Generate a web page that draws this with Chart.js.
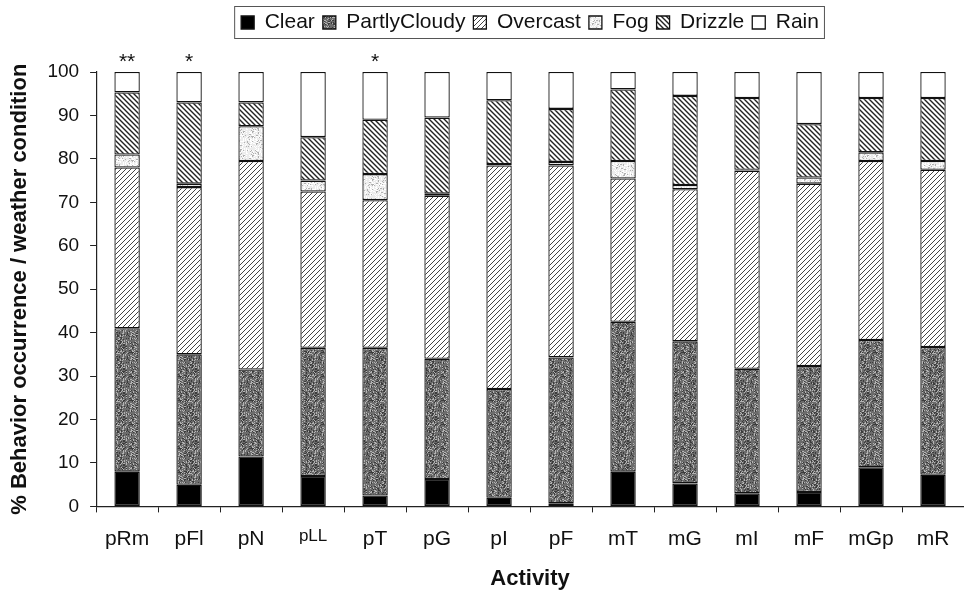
<!DOCTYPE html>
<html>
<head>
<meta charset="utf-8">
<script src="https://cdn.jsdelivr.net/npm/chart.js@4.4.0/dist/chart.umd.min.js"></script>
<style>
  body { margin: 0; background: #fff; }
  #wrap { width: 964px; height: 592px; }
</style>
</head>
<body>
<div id="wrap"><canvas id="weatherChart"></canvas></div>
<script>
// activities on the x axis
var activities = ['pRm', 'pFl', 'pN', 'pLL', 'pT', 'pG', 'pI', 'pF', 'mT', 'mG', 'mI', 'mF', 'mGp', 'mR'];
// significance marks above bars
var stars = ['**', '*', '', '', '*', '', '', '', '', '', '', '', '', ''];

// % per weather condition
var clear        = [8.0, 5.0, 11.5, 7.0, 2.5, 6.3, 2.0, 0.7, 8.0, 5.3, 3.0, 3.3, 9.0, 7.3];
var partlyCloudy = [33.0, 30.0, 20.0, 29.5, 34.0, 27.7, 25.0, 33.6, 34.5, 32.7, 28.7, 29.0, 29.3, 29.4];
var overcast     = [37.0, 38.5, 48.0, 36.0, 34.0, 37.5, 51.5, 44.2, 33.0, 35.0, 45.6, 42.0, 41.2, 40.8];
var fog          = [3.0, 0.8, 8.0, 2.5, 6.0, 0.5, 0.3, 0.8, 4.0, 1.0, 0.2, 1.4, 2.0, 2.0];
var drizzle      = [14.3, 18.7, 5.5, 10.0, 12.5, 17.5, 14.7, 12.2, 16.5, 20.5, 16.5, 12.3, 12.5, 14.5];
var rain         = [4.7, 7.0, 7.0, 15.0, 11.0, 10.5, 6.5, 8.5, 4.0, 5.5, 6.0, 12.0, 6.0, 6.0];

var yTicks = [0, 10, 20, 30, 40, 50, 60, 70, 80, 90, 100];

// fill patterns, to look like the printed figure
function makePattern(size, draw) {
    var c = document.createElement('canvas');
    c.width = size; c.height = size;
    var g = c.getContext('2d');
    draw(g, size);
    return g.createPattern(c, 'repeat');
}

// fixed hash grain, so the texture is the same every time
function grain(x, y) {
    var h = (x * 374761393 + y * 668265263) | 0;
    h = (h ^ (h >>> 13)) * 1274126177 | 0;
    return ((h ^ (h >>> 16)) >>> 0) % 100;
}

function speckle(base, light, dark, lightShare, darkShare) {
    return makePattern(24, function(g, s) {
        for (var y = 0; y < s; y++) {
            for (var x = 0; x < s; x++) {
                var n = grain(x, y);
                g.fillStyle = n < lightShare ? light : (n > 99 - darkShare ? dark : base);
                g.fillRect(x, y, 1, 1);
            }
        }
    });
}

var stipple = speckle('#6c6c6c', '#b4b4b4', '#3c3c3c', 22, 22);
var fogDots = speckle('#ececec', '#ffffff', '#b0b0b0', 30, 14);

var forwardHatch = makePattern(5, function(g, s) {
    g.fillStyle = '#fff';
    g.fillRect(0, 0, s, s);
    g.strokeStyle = '#444';
    g.lineWidth = 1;
    g.beginPath();
    g.moveTo(-1, s + 1); g.lineTo(s + 1, -1);
    g.moveTo(-1, 1); g.lineTo(1, -1);
    g.moveTo(s - 1, s + 1); g.lineTo(s + 1, s - 1);
    g.stroke();
});

var backHatch = makePattern(5, function(g, s) {
    g.fillStyle = '#fff';
    g.fillRect(0, 0, s, s);
    g.strokeStyle = '#222';
    g.lineWidth = 1.4;
    g.beginPath();
    g.moveTo(-1, -1); g.lineTo(s + 1, s + 1);
    g.moveTo(s - 1, -1); g.lineTo(s + 1, 1);
    g.moveTo(-1, s - 1); g.lineTo(1, s + 1);
    g.stroke();
});

function series(label, values, fill) {
    return {
        label: label,
        data: values,
        backgroundColor: fill,
        borderColor: '#111',
        borderWidth: 1.3,
        borderSkipped: false,
        barPercentage: 0.41,
        categoryPercentage: 1.0
    };
}

// legend sits in a frame, centred over the plot area, with room below for the stars
var legendFrame = {
    id: 'legendFrame',
    beforeInit: function(chart) {
        var fit = chart.legend.fit;
        chart.legend.fit = function() {
            fit.bind(chart.legend)();
            this.height += 29;
        };
    },
    afterLayout: function(chart) {
        var lg = chart.legend, area = chart.chartArea;
        var dx = (area.left + area.right) / 2 - (lg.left + lg.right) / 2;
        lg.left += dx;
        lg.right += dx;
    },
    afterDraw: function(chart) {
        var boxes = chart.legend.legendHitBoxes;
        if (!boxes || !boxes.length) return;
        var ctx = chart.ctx;
        var first = boxes[0], last = boxes[boxes.length - 1];
        ctx.save();
        ctx.strokeStyle = '#555';
        ctx.lineWidth = 1;
        ctx.strokeRect(first.left - 6.5, first.top - 5.5, last.left + last.width - first.left + 12, first.height + 11);
        ctx.restore();
    }
};

var starMarks = {
    id: 'starMarks',
    afterDatasetsDraw: function(chart) {
        var ctx = chart.ctx;
        var x = chart.scales.x, y = chart.scales.y;
        ctx.save();
        ctx.fillStyle = '#111';
        ctx.font = '21px "Liberation Sans", Arial, sans-serif';
        ctx.textAlign = 'center';
        ctx.textBaseline = 'alphabetic';
        stars.forEach(function(s, i) {
            if (s) ctx.fillText(s, x.getPixelForValue(i), y.getPixelForValue(100) - 4);
        });
        ctx.restore();
    }
};

Chart.defaults.font.family = '"Liberation Sans", Arial, sans-serif';
Chart.defaults.color = '#111';

var ctx = document.getElementById('weatherChart').getContext('2d');
var weatherChart = new Chart(ctx, {
    type: 'bar',
    data: {
        labels: activities,
        datasets: [
            series('Clear', clear, '#000'),
            series('PartlyCloudy', partlyCloudy, stipple),
            series('Overcast', overcast, forwardHatch),
            series('Fog', fog, fogDots),
            series('Drizzle', drizzle, backHatch),
            series('Rain', rain, '#fff')
        ]
    },
    options: {
        responsive: true,
        maintainAspectRatio: false,
        animation: false,
        layout: { padding: { top: 4, right: 0, left: 7, bottom: 0 } },
        plugins: {
            legend: {
                position: 'top',
                labels: {
                    boxWidth: 13,
                    boxHeight: 13,
                    padding: 8,
                    font: { size: 21 },
                    color: '#111'
                }
            },
            tooltip: { enabled: false }
        },
        scales: {
            x: {
                stacked: true,
                grid: {
                    offset: true,
                    drawOnChartArea: false,
                    drawTicks: true,
                    tickLength: 6,
                    color: '#222'
                },
                border: { display: true, color: '#222', width: 1.2 },
                ticks: {
                    padding: 14,
                    color: '#111',
                    font: function(c) {
                        return { size: activities[c.index] === 'pLL' ? 17 : 21 };
                    }
                },
                title: {
                    display: true,
                    text: 'Activity',
                    font: { size: 22, weight: 'bold' },
                    padding: { top: 0, bottom: 0 },
                    color: '#111'
                }
            },
            y: {
                stacked: true,
                min: 0,
                max: 100,
                afterBuildTicks: function(axis) {
                    axis.ticks = yTicks.map(function(v) { return { value: v }; });
                },
                grid: {
                    drawOnChartArea: false,
                    drawTicks: true,
                    tickLength: 6,
                    color: '#222'
                },
                border: { display: true, color: '#222', width: 1.2 },
                ticks: {
                    padding: 11,
                    font: { size: 19 },
                    color: '#111'
                },
                title: {
                    display: true,
                    text: '% Behavior occurrence / weather condition',
                    font: { size: 22, weight: 'bold' },
                    padding: { top: 0, bottom: 3 },
                    color: '#111'
                }
            }
        }
    },
    plugins: [legendFrame, starMarks]
});
</script>
</body>
</html>
